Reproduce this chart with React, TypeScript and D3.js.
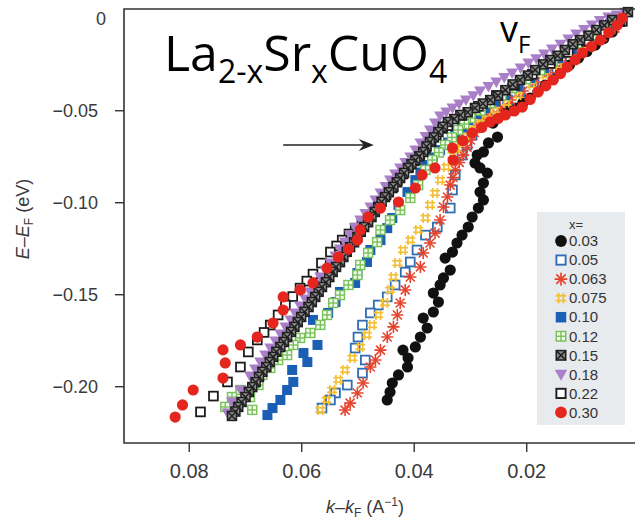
import React from 'react';
import * as d3 from 'd3';

// Each point: [k - kF (1/Å), E - EF (eV)]
type Pt = [number, number];

const x003: Pt[] = [
  [0.0048, -0.0072], [0.0063, -0.0108], [0.0078, -0.0143], [0.0093, -0.0178], [0.0108, -0.0214],
  [0.0124, -0.0252], [0.014, -0.029], [0.0153, -0.0325], [0.0167, -0.036], [0.018, -0.0396],
  [0.0194, -0.0431], [0.0207, -0.0458], [0.022, -0.0485], [0.0232, -0.05], [0.0244, -0.0513],
  [0.026, -0.0567], [0.0252, -0.0643], [0.0268, -0.0675], [0.0277, -0.0724], [0.0288, -0.0741],
  [0.0292, -0.0784], [0.0283, -0.0811], [0.027, -0.0839], [0.0277, -0.0893], [0.0283, -0.0942],
  [0.0277, -0.0985], [0.0286, -0.1029], [0.0297, -0.1078], [0.0304, -0.1132], [0.0315, -0.1176],
  [0.0324, -0.1219], [0.0332, -0.1268], [0.0345, -0.1301], [0.0336, -0.1366], [0.0348, -0.1409],
  [0.0354, -0.1447], [0.0366, -0.1491], [0.0357, -0.154], [0.0366, -0.1594], [0.0384, -0.1627],
  [0.0377, -0.1681], [0.0389, -0.173], [0.0398, -0.1784], [0.042, -0.1801], [0.0411, -0.1844],
  [0.0412, -0.1893], [0.0428, -0.1936], [0.0439, -0.198], [0.0443, -0.2029], [0.0448, -0.2072],
];

const x005: Pt[] = [
  [0.006, -0.0061], [0.0087, -0.0121], [0.0114, -0.0181], [0.0138, -0.0236], [0.0162, -0.029],
  [0.0187, -0.0344], [0.0212, -0.0398], [0.0234, -0.0442], [0.0256, -0.0485], [0.0268, -0.0512],
  [0.0279, -0.054], [0.0288, -0.0586], [0.0297, -0.0632], [0.0306, -0.0686], [0.0315, -0.0741],
  [0.0327, -0.0849], [0.0332, -0.0931], [0.0336, -0.1029], [0.0359, -0.1132], [0.038, -0.1176],
  [0.0395, -0.1257], [0.0407, -0.1322], [0.0416, -0.1377], [0.0434, -0.1447], [0.0448, -0.1512],
  [0.0464, -0.1556], [0.0478, -0.1599], [0.0492, -0.1665], [0.05, -0.173], [0.0505, -0.179],
  [0.0487, -0.1855], [0.0492, -0.1926], [0.0519, -0.1991], [0.054, -0.2034], [0.0549, -0.2072],
  [0.0564, -0.2116],
];

const x0063: Pt[] = [
  [0.0043, -0.0051], [0.0065, -0.0097], [0.0087, -0.0143], [0.0112, -0.0192], [0.0137, -0.0241],
  [0.0161, -0.0292], [0.0185, -0.0344], [0.0207, -0.0393], [0.0229, -0.0442], [0.0247, -0.0483],
  [0.0265, -0.0523], [0.0276, -0.055], [0.0286, -0.0578], [0.0293, -0.0618], [0.03, -0.0659],
  [0.0306, -0.07], [0.0313, -0.0741], [0.032, -0.0781], [0.0327, -0.0822], [0.0331, -0.0863],
  [0.0336, -0.0904], [0.0341, -0.0969], [0.0348, -0.1023], [0.0354, -0.1094], [0.0363, -0.1165],
  [0.0372, -0.1219], [0.0384, -0.1273], [0.0389, -0.1349], [0.0407, -0.1404], [0.0416, -0.1474],
  [0.0425, -0.1545], [0.043, -0.161], [0.0437, -0.1675], [0.0448, -0.173], [0.046, -0.1801],
  [0.0469, -0.1855], [0.0478, -0.1893], [0.0491, -0.198], [0.0501, -0.2034], [0.0514, -0.2089],
  [0.0523, -0.2127],
];

const x0075: Pt[] = [
  [0.0034, -0.0018], [0.0053, -0.0056], [0.0073, -0.0094], [0.0096, -0.0145], [0.0119, -0.0197],
  [0.0143, -0.0252], [0.0167, -0.0306], [0.0191, -0.036], [0.0215, -0.0415], [0.0236, -0.0456],
  [0.0256, -0.0496], [0.027, -0.0518], [0.0283, -0.054], [0.0291, -0.0572], [0.03, -0.0605],
  [0.0309, -0.0637], [0.0318, -0.067], [0.0325, -0.0705], [0.0332, -0.0741], [0.0343, -0.0806],
  [0.0354, -0.0877], [0.0363, -0.0947], [0.0372, -0.1012], [0.038, -0.1083], [0.0393, -0.1148],
  [0.0407, -0.1203], [0.042, -0.1257], [0.043, -0.1328], [0.0437, -0.1404], [0.0443, -0.1474],
  [0.0452, -0.1545], [0.0464, -0.161], [0.0475, -0.1665], [0.0484, -0.1719], [0.0496, -0.1784],
  [0.051, -0.1844], [0.0523, -0.1909], [0.0535, -0.1963], [0.0546, -0.2018], [0.0556, -0.2072],
  [0.0567, -0.2127],
];

const x010: Pt[] = [
  [0.0052, -0.0029], [0.0074, -0.0072], [0.0096, -0.0116], [0.012, -0.0165], [0.0144, -0.0214],
  [0.0169, -0.0268], [0.0194, -0.0322], [0.0216, -0.0368], [0.0238, -0.0415], [0.0256, -0.045],
  [0.0274, -0.0485], [0.0289, -0.0518], [0.0304, -0.0551], [0.0315, -0.0591], [0.0327, -0.0632],
  [0.034, -0.0673], [0.0354, -0.0714], [0.0367, -0.0754], [0.038, -0.0795], [0.0389, -0.0836],
  [0.0398, -0.0877], [0.0412, -0.0942], [0.0428, -0.1012], [0.0439, -0.1083], [0.0448, -0.1138],
  [0.046, -0.1203], [0.0478, -0.1257], [0.0484, -0.1322], [0.0501, -0.1382], [0.0505, -0.1436],
  [0.0532, -0.1485], [0.054, -0.154], [0.0553, -0.1599], [0.058, -0.1637], [0.0585, -0.1708],
  [0.0572, -0.1773], [0.0597, -0.1817], [0.059, -0.1866], [0.0617, -0.1909], [0.0615, -0.1974],
  [0.0626, -0.2018], [0.0638, -0.2072], [0.0652, -0.2116], [0.0661, -0.2154],
];

const x012: Pt[] = [
  [0.0037, -0.0007], [0.006, -0.0048], [0.0084, -0.0089], [0.0108, -0.0135], [0.0132, -0.0181],
  [0.0154, -0.023], [0.0176, -0.0279], [0.0201, -0.0328], [0.0226, -0.0377], [0.0245, -0.0417],
  [0.0265, -0.0458], [0.0282, -0.0499], [0.03, -0.054], [0.0311, -0.0572], [0.0322, -0.0605],
  [0.0333, -0.0645], [0.0345, -0.0686], [0.0356, -0.0727], [0.0368, -0.0768], [0.038, -0.0822],
  [0.0393, -0.0904], [0.0407, -0.0974], [0.0425, -0.104], [0.0443, -0.1094], [0.046, -0.1148],
  [0.0466, -0.1214], [0.0482, -0.1273], [0.0496, -0.1338], [0.0501, -0.1393], [0.0517, -0.1447],
  [0.0532, -0.1502], [0.0544, -0.1545], [0.0555, -0.161], [0.0567, -0.1664], [0.0585, -0.1708],
  [0.0603, -0.1735], [0.0615, -0.1773], [0.0626, -0.1828], [0.0642, -0.1855], [0.0656, -0.1898],
  [0.067, -0.1936], [0.0677, -0.1991], [0.0692, -0.2056], [0.0709, -0.2018], [0.0724, -0.2056],
  [0.0736, -0.211], [0.0688, -0.2126],
];

const x015: Pt[] = [
  [0.002, 0.0036], [0.0034, -0.0016], [0.0048, -0.0007], [0.0062, -0.0036], [0.0076, -0.0061],
  [0.009, -0.0092], [0.0105, -0.0116], [0.0118, -0.0139], [0.0132, -0.017], [0.0145, -0.0201],
  [0.0158, -0.0224], [0.0171, -0.0248], [0.0185, -0.0279], [0.0198, -0.0309], [0.0212, -0.0333],
  [0.0225, -0.0357], [0.0238, -0.0388], [0.0251, -0.0418], [0.0265, -0.0442], [0.0278, -0.0461],
  [0.0292, -0.0485], [0.0305, -0.0508], [0.0318, -0.0523], [0.0329, -0.0545], [0.034, -0.0561],
  [0.0349, -0.0587], [0.0357, -0.0616], [0.0365, -0.0645], [0.0372, -0.067], [0.0378, -0.0694],
  [0.0384, -0.0724], [0.0391, -0.0748], [0.0398, -0.0768], [0.0405, -0.0791], [0.0411, -0.0811],
  [0.0418, -0.0838], [0.0425, -0.0866], [0.0431, -0.0889], [0.0437, -0.0914], [0.0445, -0.0943],
  [0.0452, -0.0969], [0.0458, -0.0995], [0.0464, -0.1023], [0.047, -0.105], [0.0476, -0.1078],
  [0.0482, -0.1106], [0.0489, -0.1132], [0.0495, -0.1158], [0.0501, -0.1186], [0.0507, -0.1215],
  [0.0514, -0.1241], [0.052, -0.1267], [0.0526, -0.1295], [0.0532, -0.1323], [0.0539, -0.1349],
  [0.0545, -0.1376], [0.0551, -0.1404], [0.0557, -0.1432], [0.0564, -0.1458], [0.057, -0.1484],
  [0.0576, -0.1512], [0.0582, -0.154], [0.0588, -0.1567], [0.0595, -0.1593], [0.0601, -0.1621],
  [0.0607, -0.1649], [0.0613, -0.1675], [0.0619, -0.1702], [0.0626, -0.173], [0.0632, -0.1757],
  [0.0638, -0.1784], [0.0645, -0.181], [0.0651, -0.1838], [0.0657, -0.1866], [0.0663, -0.1893],
  [0.067, -0.1919], [0.0676, -0.1947], [0.0682, -0.1975], [0.0688, -0.2002], [0.0694, -0.2028],
  [0.07, -0.2056], [0.0707, -0.2083], [0.0713, -0.211], [0.0718, -0.2135], [0.0724, -0.2159],
];

const x018: Pt[] = [
  [0.0025, 0.0036], [0.004, 0.002], [0.0055, 0.0009], [0.007, -0.001], [0.0084, -0.0034],
  [0.0098, -0.0058], [0.0112, -0.0083], [0.0126, -0.011], [0.014, -0.0138], [0.0155, -0.0165],
  [0.0169, -0.0192], [0.0183, -0.0217], [0.0197, -0.0241], [0.0211, -0.0268], [0.0226, -0.0295],
  [0.024, -0.032], [0.0254, -0.0344], [0.0268, -0.0368], [0.0283, -0.0393], [0.0295, -0.0418],
  [0.0308, -0.0442], [0.032, -0.0463], [0.0332, -0.0485], [0.0343, -0.0507], [0.0354, -0.0529],
  [0.0363, -0.0567], [0.0372, -0.0605], [0.038, -0.064], [0.0389, -0.0676], [0.0398, -0.0713],
  [0.0407, -0.0751], [0.0416, -0.0781], [0.0425, -0.0811], [0.0434, -0.0844], [0.0443, -0.0877],
  [0.0451, -0.0912], [0.046, -0.0947], [0.0469, -0.0985], [0.0478, -0.1023], [0.0487, -0.1058],
  [0.0496, -0.1094], [0.0505, -0.1134], [0.0514, -0.1175], [0.0523, -0.1213], [0.0532, -0.1252],
  [0.054, -0.129], [0.0549, -0.1328], [0.0558, -0.1366], [0.0567, -0.1404], [0.0576, -0.1444],
  [0.0585, -0.1485], [0.0594, -0.1523], [0.0603, -0.1561], [0.0612, -0.1599], [0.062, -0.1637],
  [0.0629, -0.1675], [0.0638, -0.1714], [0.0647, -0.1752], [0.0656, -0.179], [0.0665, -0.1828],
  [0.0674, -0.1866], [0.0683, -0.1904], [0.0692, -0.1942], [0.0709, -0.2018], [0.0724, -0.2083],
  [0.0732, -0.2143],
];

const x022: Pt[] = [
  [0.003, -0.0014], [0.0062, -0.0069], [0.0094, -0.0123], [0.0126, -0.0183], [0.0158, -0.0243],
  [0.019, -0.0302], [0.0222, -0.0362], [0.0254, -0.0417], [0.0286, -0.0476], [0.0315, -0.0526],
  [0.034, -0.0581], [0.035, -0.0596], [0.0361, -0.0632], [0.037, -0.0667], [0.038, -0.0703],
  [0.039, -0.0738], [0.04, -0.0773], [0.041, -0.0808], [0.042, -0.0844], [0.043, -0.0882],
  [0.0439, -0.092], [0.045, -0.0958], [0.046, -0.0996], [0.0471, -0.1031], [0.0482, -0.1067],
  [0.0493, -0.1102], [0.0505, -0.1138], [0.0516, -0.117], [0.0528, -0.1203], [0.0538, -0.1235],
  [0.0549, -0.1268], [0.0565, -0.1328], [0.058, -0.1388], [0.0591, -0.1426], [0.0603, -0.1464],
  [0.0616, -0.151], [0.0629, -0.1556], [0.0642, -0.161], [0.0656, -0.1665], [0.0667, -0.1705],
  [0.0679, -0.1746], [0.0695, -0.1811], [0.0709, -0.1893], [0.0732, -0.1974], [0.0757, -0.2051],
  [0.078, -0.2137],
];

const x030: Pt[] = [
  [0.003, 0.0004], [0.0039, -0.0034], [0.0054, -0.0075], [0.0069, -0.0116], [0.0085, -0.0151],
  [0.0101, -0.0186], [0.0114, -0.0224], [0.0128, -0.0263], [0.014, -0.0298], [0.0153, -0.0333],
  [0.0166, -0.0365], [0.018, -0.0398], [0.0194, -0.0439], [0.0208, -0.048], [0.0222, -0.0501],
  [0.0238, -0.0523], [0.0251, -0.0542], [0.0265, -0.0561], [0.028, -0.0591], [0.0297, -0.0621],
  [0.0314, -0.0662], [0.0332, -0.0703], [0.0331, -0.0768], [0.0363, -0.0811], [0.0386, -0.0849],
  [0.0398, -0.092], [0.0428, -0.0996], [0.046, -0.1029], [0.0482, -0.1078], [0.0496, -0.1148],
  [0.0501, -0.1203], [0.0517, -0.1252], [0.0535, -0.1295], [0.0555, -0.1355], [0.058, -0.1436],
  [0.0603, -0.1474], [0.0633, -0.1512], [0.0633, -0.1583], [0.0651, -0.1654], [0.0679, -0.173],
  [0.0709, -0.1773], [0.074, -0.18], [0.0736, -0.1871], [0.074, -0.1953], [0.0793, -0.2018],
  [0.0812, -0.2099], [0.0825, -0.2165],
];

const dopings = ['0.03', '0.05', '0.063', '0.075', '0.10', '0.12', '0.15', '0.18', '0.22', '0.30'];
const seriesData = [x003, x005, x0063, x0075, x010, x012, x015, x018, x022, x030];
const seriesColors = ['#111111', '#2f6db5', '#e6432c', '#f3bf33', '#1b5fb5', '#78c15b', '#202020', '#a97fc8', '#1c1c1c', '#e4261f'];
type Kind = 'dot' | 'sqOpen' | 'star' | 'hash' | 'sq' | 'sqGrid' | 'sqX' | 'triDown';
const seriesKinds: Kind[] = ['dot', 'sqOpen', 'star', 'hash', 'sq', 'sqGrid', 'sqX', 'triDown', 'sqOpen', 'dot'];
// painting order of the series (indices into the arrays above)
const drawOrder = [0, 1, 2, 3, 4, 5, 8, 7, 6, 9];

const xTicks = [0.08, 0.06, 0.04, 0.02];
const yTicks = [0, -0.05, -0.1, -0.15, -0.2];
const kinkArrow: { from: Pt; to: Pt } = { from: [0.0633, -0.0686], to: [0.0472, -0.0686] };

const W = 635;
const H = 525;
const xScale = d3.scaleLinear().domain([0.0916, 0.0005]).range([124, 636.4]);
const yScale = d3.scaleLinear().domain([0.0053, -0.2306]).range([9, 443]);

const axisFont = 'Liberation Sans, Arial, Helvetica, sans-serif';
const axisInk = '#3a3a3a';
const fmt = d3.format('.2f');
const tickText = (v: number) => (v === 0 ? '0' : fmt(v));

function Marker({ kind, color, cx, cy, s = 1 }: { kind: Kind; color: string; cx: number; cy: number; s?: number }) {
  const t = `translate(${cx},${cy}) scale(${s})`;
  switch (kind) {
    case 'dot':
      return <circle transform={t} r={5.6} fill={color} />;
    case 'sqOpen':
      return <rect transform={t} x={-4.4} y={-4.4} width={8.8} height={8.8} fill="#fff" stroke={color} strokeWidth={1.8} />;
    case 'sq':
      return <rect transform={t} x={-5} y={-5} width={10} height={10} fill={color} />;
    case 'star':
      return (
        <g transform={t} stroke={color} strokeWidth={1.6} strokeLinecap="round">
          <line x1={-5.5} y1={0} x2={5.5} y2={0} />
          <line x1={0} y1={-5.5} x2={0} y2={5.5} />
          <line x1={-4} y1={-4} x2={4} y2={4} />
          <line x1={-4} y1={4} x2={4} y2={-4} />
        </g>
      );
    case 'hash':
      return (
        <g transform={t} stroke={color} strokeWidth={1.7}>
          <line x1={-2.3} y1={-5} x2={-2.3} y2={5} />
          <line x1={2.3} y1={-5} x2={2.3} y2={5} />
          <line x1={-5} y1={-2.3} x2={5} y2={-2.3} />
          <line x1={-5} y1={2.3} x2={5} y2={2.3} />
        </g>
      );
    case 'sqGrid':
      return (
        <g transform={t} stroke={color} strokeWidth={1.4}>
          <rect x={-4.5} y={-4.5} width={9} height={9} fill="#f4fbef" />
          <line x1={0} y1={-4.5} x2={0} y2={4.5} />
          <line x1={-4.5} y1={0} x2={4.5} y2={0} />
        </g>
      );
    case 'sqX':
      return (
        <g transform={t} stroke={color} strokeWidth={1.5}>
          <rect x={-4.5} y={-4.5} width={9} height={9} fill="#8c8c8c" />
          <line x1={-4.5} y1={-4.5} x2={4.5} y2={4.5} />
          <line x1={-4.5} y1={4.5} x2={4.5} y2={-4.5} />
        </g>
      );
    case 'triDown':
      return <path transform={t} d="M-6,-4.5L6,-4.5L0,6Z" fill={color} />;
  }
  return null;
}

export default function App() {
  const legendX = 537;
  const legendY = 212;
  const rowY = (i: number) => 241 + i * 19.05;
  const ax1 = xScale(kinkArrow.from[0]);
  const ax2 = xScale(kinkArrow.to[0]);
  const ay = yScale(kinkArrow.from[1]);

  return (
    <svg
      width={W}
      height={H}
      viewBox={`0 0 ${W} ${H}`}
      style={{ position: 'absolute', left: 0, top: 0, background: '#fff' }}
    >
      <rect width={W} height={H} fill="#fff" />

      {/* data points */}
      {drawOrder.map((si) => (
        <g key={dopings[si]}>
          {seriesData[si].map((p, i) => (
            <Marker key={i} kind={seriesKinds[si]} color={seriesColors[si]} cx={xScale(p[0])} cy={yScale(p[1])} />
          ))}
        </g>
      ))}

      {/* frame */}
      <path d={`M636,9H124V443H636`} fill="none" stroke="#333" strokeWidth={1.6} />

      {/* y axis ticks and labels */}
      {yTicks.map((v) => (
        <g key={v}>
          {v !== 0 && <line x1={115} x2={124} y1={yScale(v)} y2={yScale(v)} stroke="#333" strokeWidth={1.4} />}
          <text
            x={v === 0 ? 106 : 98}
            y={yScale(v)}
            dy="0.35em"
            textAnchor="end"
            fontFamily={axisFont}
            fontSize={18}
            fill={axisInk}
          >
            {tickText(v)}
          </text>
        </g>
      ))}

      {/* x axis ticks and labels */}
      {xTicks.map((v) => (
        <g key={v}>
          <line x1={xScale(v)} x2={xScale(v)} y1={443} y2={452} stroke="#333" strokeWidth={1.4} />
          <text x={xScale(v)} y={478} textAnchor="middle" fontFamily={axisFont} fontSize={20} fill={axisInk}>
            {fmt(v)}
          </text>
        </g>
      ))}

      {/* axis titles */}
      <text x={365} y={513} textAnchor="middle" fontFamily={axisFont} fontSize={18} fill={axisInk}>
        <tspan fontStyle="italic">k</tspan>–<tspan fontStyle="italic">k</tspan>
        <tspan fontSize={12} dy={4}>F</tspan>
        <tspan dy={-4}> (A</tspan>
        <tspan fontSize={12} dy={-7}>−1</tspan>
        <tspan dy={7}>)</tspan>
      </text>
      <text transform="translate(29,219) rotate(-90)" textAnchor="middle" fontFamily={axisFont} fontSize={18} fill={axisInk}>
        <tspan fontStyle="italic">E</tspan>–<tspan fontStyle="italic">E</tspan>
        <tspan fontSize={12} dy={4}>F</tspan>
        <tspan dy={-4}> (eV)</tspan>
      </text>

      {/* compound title and Fermi velocity label */}
      <text x={164} y={71} fontFamily="Open Sans, Noto Sans, sans-serif" fontSize={50} fill="#000">
        La<tspan fontSize={32} dy={12}>2-x</tspan>
        <tspan dy={-12}>Sr</tspan>
        <tspan fontSize={32} dy={12}>x</tspan>
        <tspan dy={-12}>CuO</tspan>
        <tspan fontSize={32} dy={12}>4</tspan>
      </text>
      <text x={500} y={42} fontFamily="Open Sans, Noto Sans, sans-serif" fontSize={36} fill="#000">
        v<tspan fontSize={24} dy={11}>F</tspan>
      </text>

      {/* kink arrow */}
      <line x1={ax1} x2={ax2 - 8} y1={ay} y2={ay} stroke="#222" strokeWidth={1.6} />
      <path d={`M${ax2},${ay}L${ax2 - 15},${ay - 6}L${ax2 - 10},${ay}L${ax2 - 15},${ay + 6}Z`} fill="#222" />

      {/* legend */}
      <rect x={legendX} y={legendY} width={88} height={213} fill="#e8ebee" />
      <text x={576} y={229} textAnchor="middle" fontFamily={axisFont} fontSize={13} fill="#333">
        x=
      </text>
      {dopings.map((d, i) => (
        <g key={d}>
          <Marker kind={seriesKinds[i]} color={seriesColors[i]} cx={561} cy={rowY(i)} s={1.05} />
          <text x={569} y={rowY(i)} dy="0.35em" fontFamily={axisFont} fontSize={15} fill="#333">
            {d}
          </text>
        </g>
      ))}
    </svg>
  );
}
